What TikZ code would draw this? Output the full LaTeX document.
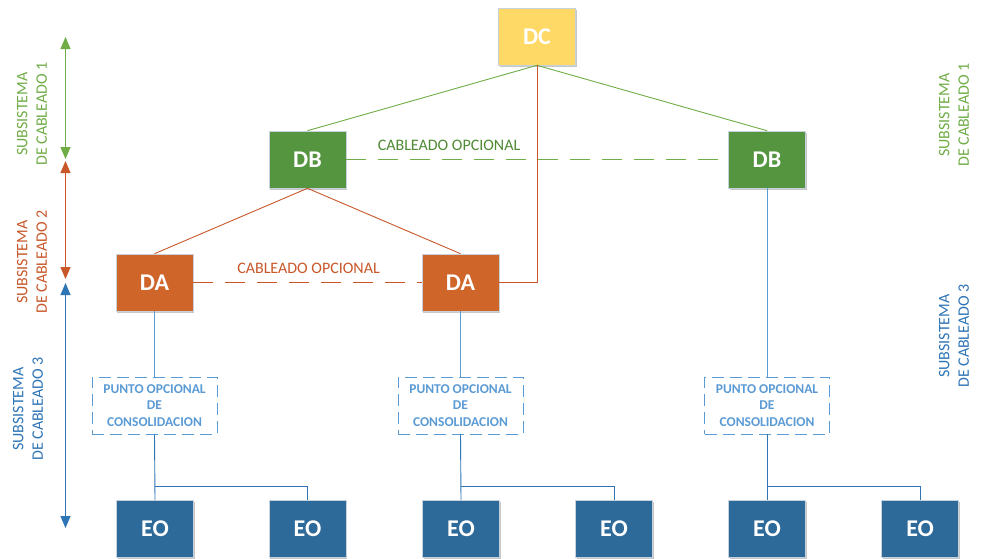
\documentclass[tikz,border=0pt]{standalone}
\usepackage{fontspec}
\setmainfont{Carlito}
\usetikzlibrary{arrows.meta,shadows}

\definecolor{dcfill}{HTML}{FFD966}
\definecolor{dbfill}{HTML}{559540}
\definecolor{dafill}{HTML}{D0652A}
\definecolor{eofill}{HTML}{2D6A9A}
\definecolor{boxedge}{HTML}{C8D2DC}
\definecolor{lgreen}{HTML}{70AD47}
\definecolor{dgreen}{HTML}{4F8A34}
\definecolor{lorange}{HTML}{C8582A}
\definecolor{lblue}{HTML}{5B9BD5}
\definecolor{dblue}{HTML}{2E75B6}

\begin{document}
\begin{tikzpicture}[x=1pt,y=-1pt,
  box/.style={draw=boxedge, line width=0.6pt, minimum width=77pt, minimum height=57pt,
    inner sep=0pt, text=white, font=\fontsize{24}{26}\selectfont\bfseries,
    drop shadow={shadow xshift=1.2pt, shadow yshift=-1.5pt, opacity=0.22, fill=black}},
  consol/.style={draw=lblue, dash pattern=on 12pt off 6pt, line width=0.8pt,
    minimum width=125pt, minimum height=57pt, inner sep=0pt, text=lblue, align=center,
    font=\fontsize{13.5}{16.5}\selectfont\bfseries},
  sidelabel/.style={rotate=90, align=center, font=\fontsize{16}{19.5}\selectfont},
  optlabel/.style={font=\fontsize{16}{19}\selectfont},
  gline/.style={draw=lgreen, line width=0.9pt},
  oline/.style={draw=lorange, line width=0.9pt},
  bline/.style={draw=lblue, line width=0.9pt},
  eline/.style={draw=dblue, line width=0.9pt},
  optdash/.style={line width=1pt, dash pattern=on 20pt off 12pt},
  span/.style={line width=1.1pt, {Triangle[length=12pt,width=10pt]}-{Triangle[length=12pt,width=10pt]}}
]
\path[use as bounding box, fill=white] (0,0) rectangle (984,558);

% distribution hierarchy
\node[box, fill=dcfill] (DC) at (537,36.5) {DC};
\node[box, fill=dbfill] (DBl) at (307.5,159.5) {DB};
\node[box, fill=dbfill] (DBr) at (767,159.5) {DB};
\node[box, fill=dafill] (DAl) at (154.5,282.5) {DA};
\node[box, fill=dafill] (DAr) at (460.5,282.5) {DA};

% optional consolidation points
\node[consol] (Cl) at (154.5,405.5) {PUNTO OPCIONAL\\DE\\CONSOLIDACION};
\node[consol] (Cm) at (460.5,405.5) {PUNTO OPCIONAL\\DE\\CONSOLIDACION};
\node[consol] (Cr) at (767,405.5) {PUNTO OPCIONAL\\DE\\CONSOLIDACION};

% outlets
\node[box, fill=eofill] (EO1) at (155,529) {EO};
\node[box, fill=eofill] (EO2) at (307.5,529) {EO};
\node[box, fill=eofill] (EO3) at (461,529) {EO};
\node[box, fill=eofill] (EO4) at (614,529) {EO};
\node[box, fill=eofill] (EO5) at (767,529) {EO};
\node[box, fill=eofill] (EO6) at (920,529) {EO};

% subsystem 1 cabling
\draw[gline] (DC.south) -- (DBl.north);
\draw[gline] (DC.south) -- (DBr.north);
\draw[gline, optdash] (DBl.east) -- (DBr.west);
\node[optlabel, text=dgreen] (opt1) at (449,145) {CABLEADO OPCIONAL};

% subsystem 2 cabling
\draw[oline] (DC.south) |- (DAr.east);
\draw[oline] (DBl.south) -- (DAl.north);
\draw[oline] (DBl.south) -- (DAr.north);
\draw[oline, optdash] (DAl.east) -- (DAr.west);
\node[optlabel, text=lorange] (opt2) at (308.5,268) {CABLEADO OPCIONAL};

% subsystem 3 cabling
\draw[bline] (DAl.south) -- (Cl.north);
\draw[bline] (DAr.south) -- (Cm.north);
\draw[bline] (DBr.south) -- (Cr.north);
\coordinate (jl) at (154.5,486);
\coordinate (jm) at (460.5,486);
\coordinate (jr) at (767,486);
\draw[eline] (Cl.south) -- (EO1.north);
\draw[eline] (jl) -| (EO2.north);
\draw[eline] (Cm.south) -- (EO3.north);
\draw[eline] (jm) -| (EO4.north);
\draw[eline] (Cr.south) -- (EO5.north);
\draw[eline] (jr) -| (EO6.north);

% subsystem extents
\coordinate (s1a) at (65.5,37);
\coordinate (s1b) at (65.5,159);
\coordinate (s2a) at (65.5,161);
\coordinate (s2b) at (65.5,279);
\coordinate (s3a) at (65.5,283);
\coordinate (s3b) at (65.5,528);
\draw[span, draw=lgreen, fill=lgreen] (s1a) -- (s1b);
\draw[span, draw=lorange, fill=lorange] (s2a) -- (s2b);
\draw[span, draw=dblue, fill=dblue] (s3a) -- (s3b);

% subsystem labels
\node[sidelabel, text=lgreen] (l1) at (32,114) {SUBSISTEMA\\DE CABLEADO 1};
\node[sidelabel, text=lorange] (l2) at (32,262) {SUBSISTEMA\\DE CABLEADO 2};
\node[sidelabel, text=dblue] (l3) at (28,409) {SUBSISTEMA\\DE CABLEADO 3};
\node[sidelabel, text=lgreen] (r1) at (954,115) {SUBSISTEMA\\DE CABLEADO 1};
\node[sidelabel, text=dblue] (r3) at (954,336) {SUBSISTEMA\\DE CABLEADO 3};
\end{tikzpicture}
\end{document}
